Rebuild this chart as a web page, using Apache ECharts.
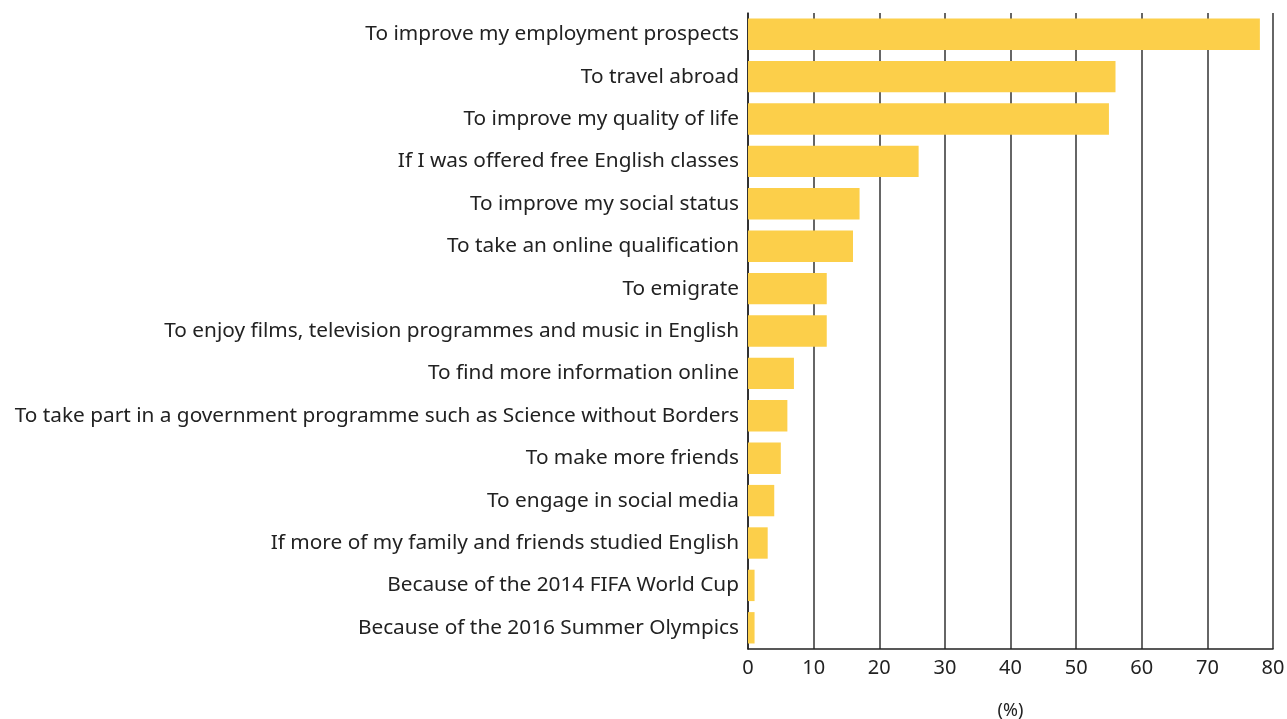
<!DOCTYPE html>
<html>
<head>
<meta charset="utf-8">
<script src="https://cdn.jsdelivr.net/npm/echarts@6/dist/echarts.min.js"></script>
<style>
  html, body { margin: 0; padding: 0; background: #fff; }
  #chart { width: 1287px; height: 719px; }
</style>
</head>
<body>
<div id="chart"></div>
<script>
const categories = [
  'To improve my employment prospects',
  'To travel abroad',
  'To improve my quality of life',
  'If I was offered free English classes',
  'To improve my social status',
  'To take an online qualification',
  'To emigrate',
  'To enjoy films, television programmes and music in English',
  'To find more information online',
  'To take part in a government programme such as Science without Borders',
  'To make more friends',
  'To engage in social media',
  'If more of my family and friends studied English',
  'Because of the 2014 FIFA World Cup',
  'Because of the 2016 Summer Olympics'
]
const percents = [78, 56, 55, 26, 17, 16, 12, 12, 7, 6, 5, 4, 3, 1, 1]

const chart = echarts.init(document.getElementById('chart'))
chart.setOption({
  animation: false,
  textStyle: {fontFamily: 'Noto Sans'},
  grid: {
    left: 748,
    right: 14,
    top: 13,
    bottom: 70,
    outerBoundsMode: 'none'
  },
  xAxis: {
    type: 'value',
    min: 0,
    max: 80,
    interval: 10,
    name: '(%)',
    nameLocation: 'middle',
    nameGap: 53,
    nameTextStyle: {fontSize: 18, color: '#222'},
    axisLine: {show: true, lineStyle: {color: '#222', width: 1.5}},
    axisTick: {show: false},
    axisLabel: {fontSize: 20, color: '#222', margin: 9},
    splitLine: {show: true, lineStyle: {color: '#333', width: 1.5}}
  },
  yAxis: {
    type: 'category',
    inverse: true,
    data: categories,
    axisLine: {show: true, lineStyle: {color: '#222', width: 1.5}},
    axisTick: {show: false},
    axisLabel: {fontSize: 20.8, color: '#222', margin: 9, padding: [11, 0, 0, 0]}
  },
  series: [{
    type: 'bar',
    data: percents,
    barCategoryGap: '26%',
    itemStyle: {color: '#FCCF4A'}
  }]
})
</script>
</body>
</html>
